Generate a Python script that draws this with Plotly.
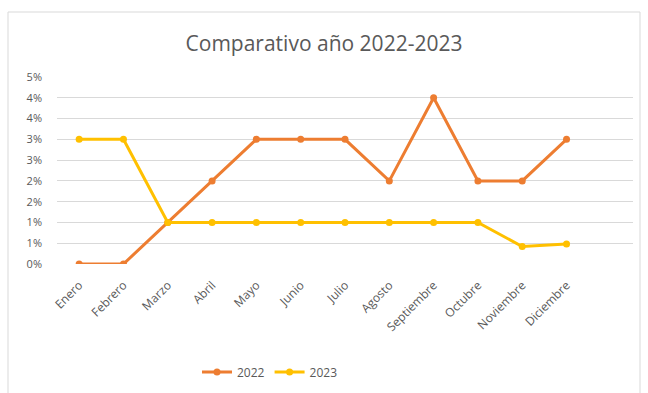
import plotly.graph_objects as go

# Monthly comparison data (percent values)
meses = ["Enero", "Febrero", "Marzo", "Abril", "Mayo", "Junio", "Julio",
         "Agosto", "Septiembre", "Octubre", "Noviembre", "Diciembre"]
serie_2022 = [0.0, 0.0, 1.0, 2.0, 3.0, 3.0, 3.0, 2.0, 4.0, 2.0, 2.0, 3.0]
serie_2023 = [3.0, 3.0, 1.0, 1.0, 1.0, 1.0, 1.0, 1.0, 1.0, 1.0, 0.42, 0.48]

# Y axis ticks every 0.5 %, labelled rounded to whole percent
y_ticks = [0.0, 0.5, 1.0, 1.5, 2.0, 2.5, 3.0, 3.5, 4.0, 4.5]
y_labels = ["0%", "1%", "1%", "2%", "2%", "3%", "3%", "4%", "4%", "5%"]

W, H = 648, 393
M_L, M_R, M_T, M_B = 57, 15, 77, 129
PW, PH = W - M_L - M_R, H - M_T - M_B


def px_to_paper(x_px, y_px):
    return (x_px - M_L) / PW, (H - M_B - y_px) / PH


font_family = "Open Sans, Lato, sans-serif"
grey = "#595959"

fig = go.Figure()
fig.add_trace(go.Scatter(
    x=list(range(len(meses))), y=serie_2022, name="2022", mode="lines+markers",
    line=dict(color="#ED7D31", width=3), marker=dict(size=7, color="#ED7D31"),
))
fig.add_trace(go.Scatter(
    x=list(range(len(meses))), y=serie_2023, name="2023", mode="lines+markers",
    line=dict(color="#FFC000", width=3), marker=dict(size=7, color="#FFC000"),
))

# Outer chart frame
fx0, fy0 = px_to_paper(8, 12)
fx1, fy1 = px_to_paper(640, 400)
fig.add_shape(type="rect", xref="paper", yref="paper", x0=fx0, y0=fy1, x1=fx1, y1=fy0,
              line=dict(color="#d9d9d9", width=1), layer="below")

lx, ly = px_to_paper(270, 372)

fig.update_layout(
    width=W, height=H,
    margin=dict(l=M_L, r=M_R, t=M_T, b=M_B, autoexpand=False),
    paper_bgcolor="white", plot_bgcolor="white",
    font=dict(family=font_family, color=grey),
    title=dict(text="Comparativo año 2022-2023", x=0.5, xref="container", xanchor="center",
               y=(H - 44) / H, yref="container", yanchor="middle",
               font=dict(size=21, color=grey, family=font_family)),
    showlegend=True,
    legend=dict(orientation="h", x=lx, y=ly, xanchor="center", yanchor="middle",
                font=dict(size=12, color=grey), bgcolor="rgba(0,0,0,0)"),
    xaxis=dict(
        range=[-0.5, len(meses) + 0.5], automargin=False,
        tickmode="array", tickvals=list(range(len(meses))), ticktext=meses,
        tickangle=-45, tickfont=dict(size=12, color=grey),
        showgrid=False, zeroline=False, showline=False, ticks="",
        ticklabelstandoff=11, fixedrange=True,
    ),
    yaxis=dict(
        range=[0, 4.5], automargin=False,
        tickmode="array", tickvals=y_ticks, ticktext=y_labels,
        tickfont=dict(size=11, color=grey),
        showgrid=True, gridcolor="#d9d9d9", gridwidth=1,
        zeroline=False, showline=False, ticks="",
        ticklabelstandoff=14, fixedrange=True,
    ),
)

fig.write_html("out.html")
